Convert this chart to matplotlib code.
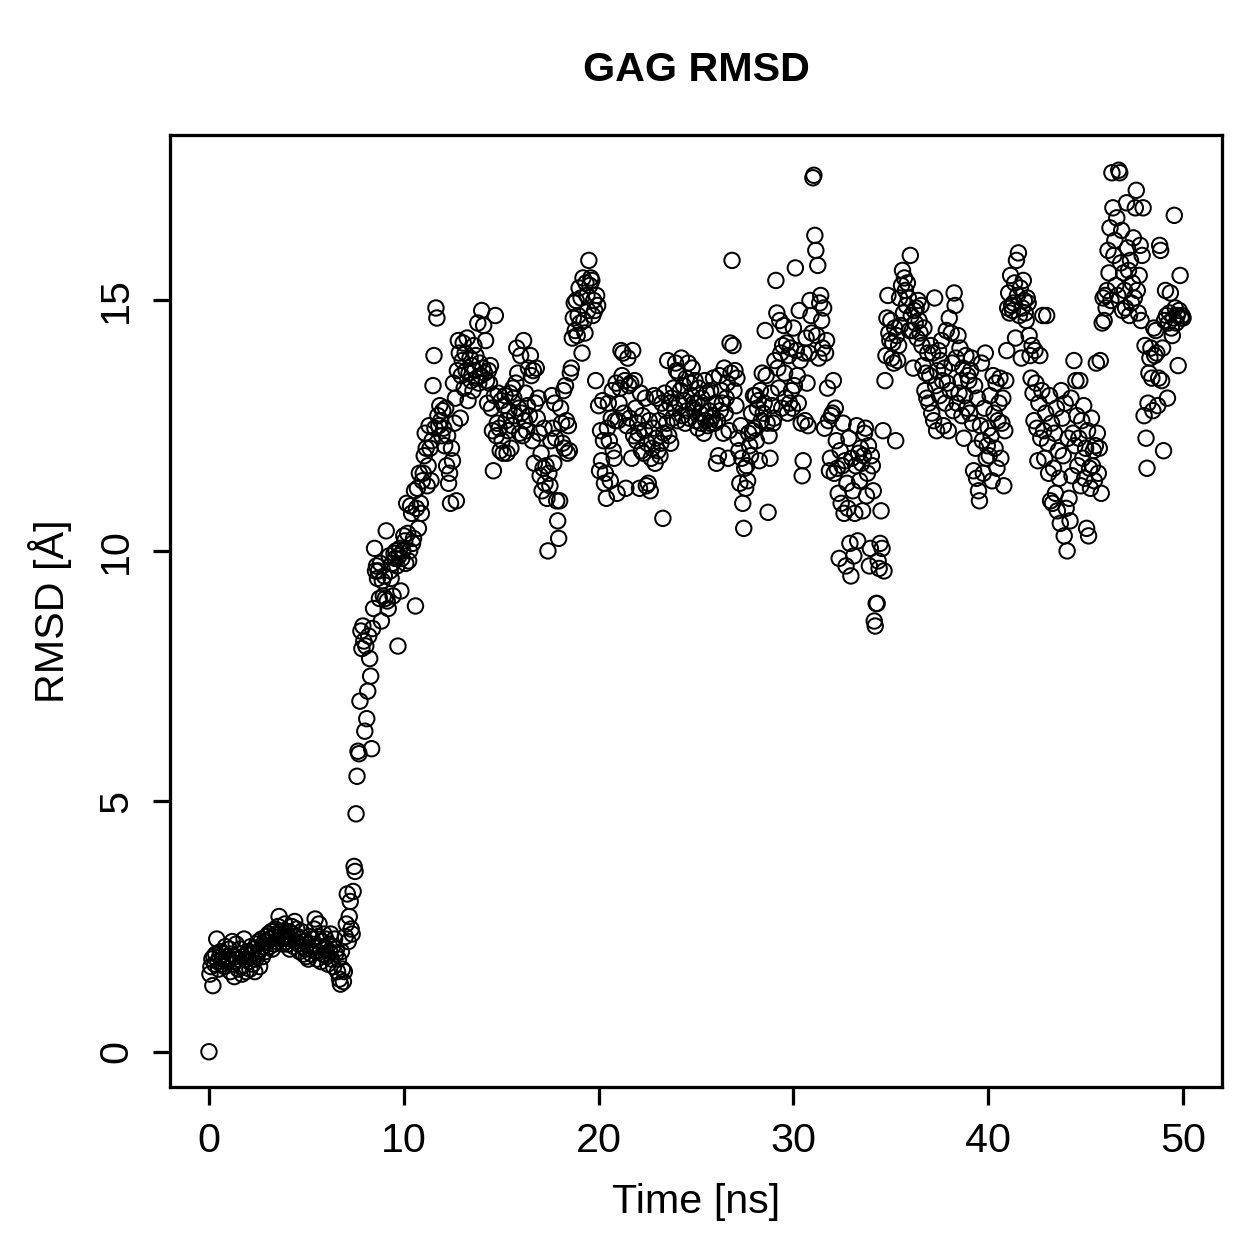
import matplotlib
matplotlib.use("Agg")
import matplotlib.pyplot as plt
from matplotlib import font_manager
import numpy as np

# RMSD trajectory, one frame every 0.05 ns
rmsd_rows = [
    [0.00, 1.55, 1.70, 1.85, 1.32, 1.90, 1.75, 1.95, 2.25, 1.80, 1.65, 1.90, 2.00, 1.75, 1.85, 1.95, 1.70, 2.10, 1.90, 1.80],
    [1.85, 2.05, 1.60, 1.95, 2.20, 1.75, 1.50, 1.90, 2.15, 1.85, 1.65, 1.95, 2.05, 1.70, 1.55, 1.90, 2.25, 1.85, 1.60, 1.95],
    [2.00, 1.80, 1.65, 2.10, 1.95, 1.75, 2.05, 1.60, 1.85, 2.15, 1.95, 2.20, 1.70, 2.05, 2.25, 1.90, 2.10, 2.20, 2.00, 2.30],
    [2.20, 2.35, 2.10, 2.25, 2.40, 2.05, 2.30, 2.15, 2.45, 2.35, 2.20, 2.50, 2.70, 2.35, 2.25, 2.40, 2.15, 2.30, 2.55, 2.20],
    [2.30, 2.15, 2.40, 2.05, 2.25, 2.50, 2.35, 2.10, 2.60, 2.20, 2.45, 2.30, 2.15, 2.00, 2.25, 2.40, 2.10, 1.95, 2.20, 2.05],
    [1.90, 2.15, 1.85, 2.30, 2.05, 1.95, 2.25, 2.10, 2.45, 2.65, 2.00, 1.85, 2.30, 2.55, 2.10, 1.80, 2.20, 1.95, 2.35, 2.05],
    [2.25, 1.90, 1.75, 2.15, 2.00, 2.35, 1.85, 2.10, 1.70, 2.25, 1.95, 2.05, 1.60, 1.85, 1.45, 1.35, 2.00, 1.65, 1.40, 1.60],
    [2.30, 2.55, 3.15, 2.20, 2.70, 3.00, 2.45, 2.35, 3.20, 3.70, 3.60, 4.75, 5.50, 6.00, 5.95, 7.00, 8.40, 8.05, 8.50, 8.20],
    [6.40, 8.10, 6.65, 7.20, 8.30, 7.85, 7.50, 6.05, 8.45, 8.85, 10.05, 9.60, 9.70, 9.45, 9.60, 9.05, 9.75, 8.60, 9.40, 9.10],
    [9.50, 9.05, 10.40, 9.00, 8.85, 9.90, 9.60, 9.45, 9.75, 9.10, 9.95, 9.85, 10.00, 9.70, 8.10, 9.90, 10.05, 9.20, 9.85, 10.00],
    [10.30, 10.20, 9.75, 10.95, 10.35, 9.80, 10.00, 10.90, 10.75, 10.15, 10.25, 11.20, 8.90, 10.85, 11.25, 10.45, 11.55, 10.95, 10.75, 11.40],
    [11.55, 11.90, 12.35, 12.05, 11.30, 11.70, 12.50, 12.05, 11.40, 12.20, 13.30, 13.90, 12.45, 14.85, 14.65, 12.70, 12.50, 12.90, 12.60, 12.30],
    [12.80, 12.45, 12.10, 12.85, 11.70, 12.30, 11.35, 11.55, 10.95, 12.05, 11.80, 13.35, 12.55, 13.05, 11.00, 13.60, 14.20, 13.95, 12.65, 13.50],
    [13.80, 14.15, 13.25, 13.95, 13.60, 14.25, 13.00, 13.55, 13.85, 13.40, 13.70, 13.20, 14.10, 13.60, 13.90, 13.45, 14.55, 13.35, 13.75, 13.50],
    [14.80, 13.65, 14.50, 13.55, 14.20, 13.40, 12.95, 13.60, 13.35, 13.70, 12.85, 12.40, 11.60, 13.10, 14.70, 12.30, 12.55, 13.15, 12.45, 12.00],
    [13.00, 12.20, 11.95, 12.90, 13.10, 12.60, 11.95, 12.40, 12.80, 13.15, 12.05, 12.50, 13.25, 13.05, 12.70, 13.35, 14.05, 13.55, 12.85, 12.35],
    [13.90, 12.75, 12.30, 14.20, 12.60, 13.15, 12.40, 12.90, 13.65, 12.70, 13.90, 13.50, 12.20, 13.60, 11.75, 12.95, 13.65, 12.65, 13.05, 12.35],
    [11.50, 11.95, 11.20, 11.65, 12.45, 11.35, 11.70, 11.05, 10.00, 11.55, 11.30, 12.20, 13.10, 12.45, 11.75, 12.95, 12.25, 11.00, 10.60, 10.25],
    [11.00, 12.85, 12.55, 12.15, 13.20, 12.05, 13.30, 12.60, 11.95, 12.50, 12.00, 13.55, 13.65, 14.25, 14.65, 14.95, 14.40, 15.00, 14.30, 14.70],
    [15.25, 14.55, 15.05, 13.95, 15.45, 14.60, 14.35, 15.35, 15.10, 14.80, 15.80, 15.30, 15.45, 15.40, 14.70, 15.00, 14.80, 13.40, 15.10, 14.90],
    [12.90, 11.60, 12.40, 11.80, 13.00, 12.20, 11.35, 11.55, 11.05, 12.45, 12.95, 12.20, 11.40, 12.65, 13.20, 12.00, 11.85, 12.60, 13.35, 11.15],
    [12.60, 12.95, 13.25, 14.00, 13.50, 13.95, 12.75, 13.40, 11.25, 12.50, 13.85, 13.30, 12.65, 13.35, 11.85, 14.00, 12.30, 13.40, 12.85, 12.20],
    [12.55, 12.35, 11.25, 13.15, 12.00, 12.70, 11.95, 12.40, 13.05, 11.30, 12.15, 11.35, 12.60, 11.20, 11.85, 12.05, 12.45, 13.10, 11.75, 12.25],
    [13.05, 12.00, 12.60, 11.90, 12.15, 12.95, 10.65, 12.35, 13.15, 12.80, 12.55, 13.80, 12.30, 12.95, 12.15, 13.05, 12.65, 13.25, 12.85, 13.75],
    [13.60, 12.60, 13.55, 12.95, 13.20, 13.85, 12.70, 13.30, 13.00, 12.55, 13.45, 12.80, 13.75, 12.65, 13.35, 13.10, 13.65, 12.85, 12.95, 13.40],
    [12.60, 12.95, 12.45, 13.25, 12.75, 12.55, 13.05, 12.90, 12.35, 13.40, 12.60, 13.15, 12.50, 12.80, 12.55, 13.20, 12.65, 12.70, 13.45, 12.55],
    [12.95, 11.75, 12.60, 11.90, 13.50, 12.80, 13.20, 12.95, 12.35, 13.65, 12.75, 13.05, 13.35, 11.85, 12.40, 14.15, 13.55, 15.80, 14.10, 13.20],
    [13.60, 12.90, 13.45, 12.25, 12.00, 11.35, 12.50, 11.85, 10.95, 10.45, 11.65, 11.25, 11.70, 11.40, 12.35, 12.10, 11.90, 12.75, 12.40, 13.10],
    [12.45, 13.10, 12.20, 12.85, 13.00, 11.80, 13.20, 12.60, 13.55, 12.75, 12.95, 14.40, 13.50, 12.55, 10.77, 12.30, 11.85, 13.15, 12.90, 12.55],
    [12.65, 13.80, 15.40, 14.75, 13.65, 13.25, 14.60, 13.95, 12.85, 14.10, 14.50, 13.55, 13.05, 14.15, 12.75, 13.90, 12.95, 14.05, 13.20, 12.85],
    [14.45, 13.30, 15.65, 14.00, 13.50, 12.95, 14.80, 13.80, 12.55, 11.50, 11.80, 13.95, 12.60, 14.25, 13.35, 12.50, 13.95, 15.00, 14.70, 14.35],
    [17.45, 17.50, 16.30, 16.00, 14.30, 15.70, 13.85, 14.95, 15.10, 14.60, 14.05, 14.85, 12.45, 13.95, 14.20, 13.25, 12.60, 11.60, 11.85, 12.70],
    [12.75, 13.40, 11.55, 12.85, 12.20, 11.65, 11.15, 9.85, 12.00, 10.95, 11.70, 12.55, 10.75, 11.80, 9.70, 11.35, 10.85, 12.25, 10.15, 9.50],
    [11.85, 11.20, 9.90, 10.75, 11.70, 12.50, 10.20, 11.95, 11.40, 12.05, 11.75, 10.80, 11.90, 12.35, 12.45, 11.10, 11.55, 12.10, 9.70, 10.05],
    [11.90, 11.70, 11.20, 8.60, 8.50, 8.95, 8.95, 9.80, 9.65, 10.15, 10.80, 10.05, 12.40, 9.60, 13.40, 13.90, 14.65, 15.10, 14.35, 14.20],
    [14.60, 13.85, 14.15, 13.75, 14.45, 12.20, 14.30, 13.80, 14.10, 15.05, 14.50, 15.30, 15.60, 14.75, 15.45, 15.20, 14.90, 15.35, 15.05, 14.40],
    [15.90, 14.70, 14.40, 13.65, 14.80, 14.55, 14.85, 14.25, 15.00, 14.60, 14.35, 14.90, 14.10, 13.70, 14.45, 13.20, 13.55, 13.05, 13.95, 12.95],
    [13.50, 14.10, 12.75, 13.95, 12.60, 15.05, 13.30, 12.40, 13.60, 14.00, 13.10, 13.80, 14.20, 13.40, 12.50, 13.65, 12.95, 14.40, 13.35, 12.40],
    [14.65, 13.20, 14.35, 13.75, 12.80, 15.15, 14.90, 13.85, 12.95, 14.30, 13.15, 14.05, 13.40, 12.70, 13.65, 12.25, 13.10, 13.90, 12.85, 13.50],
    [13.40, 12.75, 13.60, 13.85, 12.55, 11.60, 13.30, 12.05, 11.45, 13.05, 11.20, 11.00, 12.50, 13.75, 12.20, 11.55, 12.85, 13.95, 11.85, 12.10],
    [12.45, 11.90, 13.10, 12.30, 11.40, 13.50, 12.75, 12.05, 13.35, 11.65, 12.60, 12.95, 13.45, 11.85, 12.55, 13.05, 11.30, 12.40, 13.40, 14.00],
    [14.85, 15.15, 14.75, 15.50, 14.90, 14.80, 14.95, 15.35, 14.25, 15.80, 15.10, 15.95, 14.70, 15.25, 13.85, 14.85, 15.40, 15.00, 14.75, 14.60],
    [15.05, 14.95, 14.30, 13.90, 13.45, 14.10, 13.15, 12.60, 14.00, 13.35, 12.45, 11.80, 12.95, 13.90, 12.25, 13.20, 14.70, 12.40, 11.85, 12.75],
    [14.70, 12.15, 11.55, 13.10, 11.00, 12.55, 10.95, 11.65, 12.35, 11.15, 12.85, 10.80, 12.00, 11.45, 10.55, 13.20, 12.65, 11.90, 10.30, 12.95],
    [10.85, 10.00, 12.25, 11.05, 10.60, 13.05, 11.50, 12.35, 13.80, 12.10, 13.40, 12.70, 11.70, 12.25, 13.40, 11.30, 12.60, 11.85, 12.90, 11.45],
    [12.05, 10.45, 12.40, 10.30, 11.65, 11.25, 12.65, 11.70, 12.00, 11.40, 12.10, 13.75, 12.35, 11.55, 12.05, 13.80, 11.15, 14.55, 15.05, 14.60],
    [15.10, 14.85, 15.20, 16.00, 15.55, 16.45, 15.00, 17.55, 16.85, 15.90, 16.20, 15.30, 16.65, 15.10, 17.60, 17.55, 15.75, 16.40, 14.80, 15.55],
    [15.20, 14.85, 16.95, 16.05, 15.60, 14.70, 15.80, 14.95, 15.35, 16.25, 15.05, 16.85, 17.20, 15.20, 14.75, 15.50, 16.10, 14.60, 15.90, 16.85],
    [12.70, 14.10, 12.25, 11.65, 12.95, 13.55, 13.85, 14.05, 13.45, 12.80, 14.45, 13.90, 14.40, 13.95, 12.90, 13.45, 16.10, 16.00, 13.40, 14.05],
    [12.00, 14.60, 15.20, 14.70, 13.05, 14.55, 14.75, 15.15, 14.45, 14.30, 14.65, 16.70, 14.85, 14.55, 14.70, 13.70, 14.80, 15.50, 14.65, 14.70],
    [14.65],
]
frame_step_ns = 0.05

rmsd = np.array([v for row in rmsd_rows for v in row])
time_ns = np.arange(len(rmsd)) * frame_step_ns

x_ticks = [0, 10, 20, 30, 40, 50]
y_ticks = [0, 5, 10, 15]

plt.rcParams['font.family'] = ['Liberation Sans', 'DejaVu Sans']

# the title in the reference is a condensed bold face
installed = {f.name for f in font_manager.fontManager.ttflist}
title_family = ['Liberation Sans Narrow'] if 'Liberation Sans Narrow' in installed else ['Liberation Sans']
title_size = 19.5 if 'Liberation Sans Narrow' in installed else 16.5

fig = plt.figure(figsize=(1259 / 180, 1259 / 180), dpi=180)
ax = fig.add_axes([170 / 1259, 1 - 1087 / 1259, 1052 / 1259, 952 / 1259])

ax.scatter(time_ns, rmsd, s=38, facecolors='none', edgecolors='black', linewidths=0.8)

# R-style 4% padding around the data range
x_pad = 0.04 * (time_ns.max() - time_ns.min())
y_pad = 0.04 * (rmsd.max() - rmsd.min())
ax.set_xlim(time_ns.min() - x_pad, time_ns.max() + x_pad)
ax.set_ylim(rmsd.min() - y_pad, rmsd.max() + y_pad)

ax.set_xticks(x_ticks)
ax.set_yticks(y_ticks)
ax.tick_params(axis='both', direction='out', length=7, width=1.3, labelsize=16.5, pad=7)
for lbl in ax.get_yticklabels():
    lbl.set_rotation(90)
    lbl.set_va('center')

for sp in ax.spines.values():
    sp.set_linewidth(1.3)

ax.set_xlabel('Time [ns]', fontsize=16.5, va='center')
ax.xaxis.set_label_coords(0.5, (1087 - 1202) / 952)
ax.set_ylabel('RMSD [Å]', fontsize=16.5, va='center')
ax.yaxis.set_label_coords((50 - 170) / 1052, 0.5)

ax.text(0.5, (1087 - 70) / 952, 'GAG RMSD', transform=ax.transAxes,
        ha='center', va='center', fontsize=title_size, fontweight='bold',
        family=title_family)

fig.savefig('out.png', dpi=180)
